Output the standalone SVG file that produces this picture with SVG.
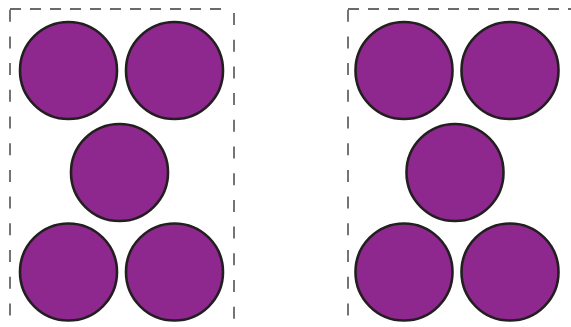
<svg xmlns="http://www.w3.org/2000/svg" width="571" height="327" viewBox="0 0 571 327">
<style>
.c{fill:#8E278E;stroke:#231F20;stroke-width:2.6}
.h{stroke:#3a3a3a;stroke-width:1.4;stroke-dasharray:11 9;fill:none}
.v{stroke:#3a3a3a;stroke-width:1.4;stroke-dasharray:12 14.7;fill:none}
</style>
<rect width="571" height="327" fill="#fff"/>
<g id="frame-left">
<line class="h" x1="10" y1="9" x2="226" y2="9"/>
<line class="v" x1="10" y1="9.7" x2="10" y2="322"/>
<line class="v" x1="234" y1="13" x2="234" y2="322"/>
</g>
<g id="frame-right">
<line class="h" x1="348" y1="9" x2="571" y2="9"/>
<line class="v" x1="348" y1="9.7" x2="348" y2="322"/>
</g>
<g id="left-group">
<circle id="l1" class="c" cx="68.5" cy="70.5" r="48.5"/>
<circle id="l2" class="c" cx="174.5" cy="70.5" r="48.5"/>
<circle id="l3" class="c" cx="119.5" cy="172.5" r="48.5"/>
<circle id="l4" class="c" cx="68.5" cy="272" r="48.5"/>
<circle id="l5" class="c" cx="174.5" cy="272" r="48.5"/>
</g>
<g id="right-group">
<circle id="r1" class="c" cx="404" cy="70.5" r="48.5"/>
<circle id="r2" class="c" cx="510" cy="70.5" r="48.5"/>
<circle id="r3" class="c" cx="455" cy="172.5" r="48.5"/>
<circle id="r4" class="c" cx="404" cy="272" r="48.5"/>
<circle id="r5" class="c" cx="510" cy="272" r="48.5"/>
</g>
</svg>
